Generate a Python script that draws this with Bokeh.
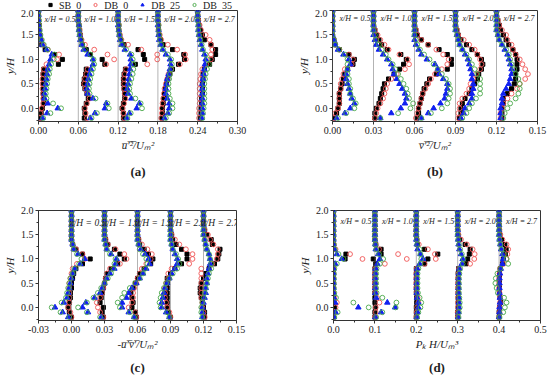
import numpy as np
from bokeh.plotting import figure
from bokeh.models import (Range1d, FixedTicker, Legend, LegendItem,
                          Span, Title, PrintfTickFormatter)
from bokeh.layouts import column, row
from bokeh.embed import file_html
from bokeh.resources import INLINE
from bokeh.core.properties import value

# ---------------- data ----------------
Y_H = [-0.2, -0.1, 0.0, 0.1, 0.2, 0.3, 0.4, 0.5, 0.6, 0.7, 0.8, 0.9,
       1.0, 1.1, 1.2, 1.3, 1.4, 1.5, 1.6, 1.7, 1.8, 1.9, 2.0]
SERIES = ["SB_0", "DB_0", "DB_25", "DB_35"]
STATIONS = ["0.5", "1.0", "1.5", "2.0", "2.7"]
Y_TICKS = [0.0, 0.5, 1.0, 1.5, 2.0]

# (a) u'^2/Um^2, values x 1e-3, one list per station
A_OFFSETS = [0.00, 0.06, 0.12, 0.18, 0.24]
A_TICKS = [0.00, 0.06, 0.12, 0.18, 0.24, 0.30]
A_SB0 = [[3,4,6,8,8,7,7,7,7,7,8,30,36,24,10,5,3,2,1,1,0,0,0],
         [9,10,9,12,15,13,10,8,9,11,12,40,36,18,12,6,4,3,2,1,0,0,0],
         [8,8,6,8,10,10,9,8,8,9,11,26,40,38,30,9,4,2,1,1,0,0,0],
         [6,7,7,8,9,10,11,13,15,18,22,31,40,39,22,8,4,2,1,1,0,0,0],
         [4,5,5,6,6,7,7,7,8,8,10,18,22,27,27,20,10,7,4,2,1,0,0]]
A_DB0 = [[2,3,5,7,7,7,6,6,6,7,8,12,28,31,14,7,4,2,1,1,0,0,0],
         [13,11,10,13,17,14,11,9,10,12,14,42,54,44,24,10,5,3,2,1,0,0,0],
         [9,8,7,9,11,10,9,9,9,10,12,44,59,59,35,15,5,3,1,1,0,0,0],
         [5,6,6,7,8,9,10,12,14,16,20,33,42,41,29,15,5,3,1,1,0,0,0],
         [2,2,2,3,3,3,3,3,4,5,7,13,20,20,22,20,18,12,5,3,1,0,0]]
A_DB25 = [[6,13,29,14,9,9,10,11,12,13,14,16,18,20,12,6,4,2,1,0,0,0,0],
          [18,25,40,42,22,14,13,14,15,17,19,22,22,14,8,5,3,2,1,1,0,0,0],
          [13,17,28,32,20,15,14,15,16,17,18,19,19,18,10,5,3,2,1,0,0,0,0],
          [10,15,17,17,14,12,12,13,14,16,18,19,18,12,7,4,2,1,1,0,0,0,0],
          [6,7,7,7,7,7,7,7,8,9,10,11,12,10,7,5,3,2,1,1,0,0,0]]
A_DB35 = [[7,18,34,22,12,11,12,13,14,16,17,19,23,24,14,8,5,3,2,1,1,0,0],
          [20,28,46,44,26,17,16,17,18,20,22,24,23,18,10,6,4,2,1,1,0,0,0],
          [14,19,36,34,26,18,17,18,20,22,23,23,22,20,12,6,4,2,1,1,0,0,0],
          [12,17,22,22,18,16,16,16,17,18,20,21,20,15,8,5,3,2,1,1,0,0,0],
          [7,8,9,10,10,10,10,10,11,12,14,17,15,12,8,6,4,2,1,1,0,0,0]]

# (b) v'^2/Um^2, values x 1e-3
B_OFFSETS = [0.00, 0.03, 0.06, 0.09, 0.12]
B_TICKS = [0.00, 0.03, 0.06, 0.09, 0.12, 0.15]
B_SB0 = [[1,3,4,5,5,5,6,7,8,9,11,15,16,12,5,2,1,0,0,0,0,0,0],
         [1,1,2,4,5,6,7,8,11,15,19,22,24,20,10,6,4,2,1,0,0,0,0],
         [2,3,3,4,5,6,7,9,11,16,24,27,27,24,18,10,5,2,1,0,0,0,0],
         [3,4,4,5,7,10,12,14,16,17,19,20,19,16,12,8,4,2,1,0,0,0,0],
         [4,4,4,5,5,8,11,13,14,14,15,15,15,14,12,9,7,5,3,2,1,0,0]]
B_DB0 = [[1,2,4,5,5,5,6,6,7,8,9,14,15,12,5,2,1,0,0,0,0,0,0],
         [1,2,3,5,7,8,9,10,13,17,23,26,25,19,11,8,5,3,1,0,0,0,0],
         [1,2,3,4,5,6,8,10,12,15,20,24,25,21,16,10,5,2,1,0,0,0,0],
         [2,2,3,3,5,8,10,11,13,15,18,19,18,16,14,10,6,2,1,0,0,0,0],
         [3,3,4,5,8,11,15,17,21,23,21,19,17,14,12,11,8,7,4,2,1,0,0]]
B_DB25 = [[3,9,13,16,14,13,12,11,10,10,11,13,12,8,4,2,1,0,0,0,0,0,0],
          [5,13,20,23,24,23,21,19,17,15,14,13,10,7,4,2,1,0,0,0,0,0,0],
          [5,10,14,19,22,23,24,24,21,18,17,15,9,5,3,1,0,0,0,0,0,0,0],
          [4,6,7,10,12,12,13,13,12,12,11,10,9,7,5,3,2,1,0,0,0,0,0],
          [3,3,3,4,4,5,7,9,10,11,11,10,9,8,6,4,2,1,0,0,0,0,0]]
B_DB35 = [[4,10,16,17,15,13,13,12,12,11,11,11,11,9,5,2,1,0,0,0,0,0,0],
          [5,18,27,29,26,25,24,22,20,18,16,14,11,9,6,4,2,1,0,0,0,0,0],
          [5,12,20,24,25,26,26,25,23,20,17,14,11,7,4,2,1,0,0,0,0,0,0],
          [5,8,10,12,15,18,18,18,18,16,14,12,10,8,5,3,2,1,0,0,0,0,0],
          [5,6,8,10,14,16,17,17,16,14,13,11,10,9,7,4,2,1,0,0,0,0,0]]

# (c) -u'v'/Um^2, values x 1e-3
C_OFFSETS = [0.00, 0.03, 0.06, 0.09, 0.12]
C_TICKS = [-0.03, 0.00, 0.03, 0.06, 0.09, 0.12, 0.15]
C_SB0 = [[0,-2,-3,-2,-1,-1,0,0,1,2,4,10,17,10,4,1,0,0,0,0,0,0,0],
         [-1,-2,-1,-4,-3,-2,-1,0,1,3,6,12,18,14,9,3,1,0,0,0,0,0,0],
         [-1,-2,-5,-4,-5,-6,-4,-2,0,2,6,12,14,10,6,2,1,0,0,0,0,0,0],
         [0,-2,-3,-3,-3,-3,-3,-3,-3,0,4,10,15,15,10,5,2,1,0,0,0,0,0],
         [1,1,0,-1,-2,-3,-3,-2,0,2,5,10,13,14,15,8,7,3,1,0,0,0,0]]
C_DB0 = [[0,-1,-3,-2,-2,-2,-2,-2,-1,0,1,5,12,10,4,1,0,0,0,0,0,0,0],
         [-1,-4,-6,-7,-4,-2,-1,0,1,2,5,14,20,18,10,3,1,0,0,0,0,0,0],
         [-1,-2,-8,-5,-4,-4,-3,-1,0,2,4,8,12,13,9,4,1,0,0,0,0,0,0],
         [0,-1,-3,-4,-5,-5,-5,-4,-2,-2,1,17,20,20,14,8,4,1,0,0,0,0,0],
         [1,0,-1,-1,-2,-2,-2,-2,-2,-2,-2,8,12,13,13,9,6,4,1,0,0,0,0]]
C_DB25 = [[-3,-8,-15,-7,-4,-3,-2,-1,0,1,3,8,12,6,2,1,0,0,0,0,0,0,0],
          [-3,-15,-20,-17,-9,-4,-2,0,2,5,9,10,11,6,2,1,0,0,0,0,0,0,0],
          [-3,-8,-14,-14,-10,-8,-5,-1,2,5,8,11,10,7,3,1,0,0,0,0,0,0,0],
          [-1,-4,-8,-8,-7,-6,-5,-3,-1,1,4,6,6,4,2,1,0,0,0,0,0,0,0],
          [-1,-1,-1,0,1,2,2,3,3,4,5,6,6,5,3,2,1,0,0,0,0,0,0]]
C_DB35 = [[-2,-10,-18,-9,-5,-4,-3,-2,-1,1,3,7,9,5,2,1,0,0,0,0,0,0,0],
          [-4,-16,-24,-16,-10,-6,-3,0,3,6,8,9,10,5,2,1,0,0,0,0,0,0,0],
          [-3,-7,-16,-18,-14,-12,-7,-2,2,5,7,9,8,5,2,1,0,0,0,0,0,0,0],
          [-1,-3,-9,-10,-9,-8,-6,-4,-1,2,6,8,7,5,2,1,0,0,0,0,0,0,0],
          [-1,-2,-2,-1,0,1,2,3,4,5,7,7,6,5,3,2,1,0,0,0,0,0,0]]

# (d) Pk H/Um^3, values x 1e-3
D_OFFSETS = [0.0, 0.1, 0.2, 0.3, 0.4]
D_TICKS = [0.0, 0.1, 0.2, 0.3, 0.4, 0.5]
D_SB0 = [[0,1,2,1,0,0,0,0,0,0,0,2,28,30,1,0,0,0,0,0,0,0,0],
         [0,0,1,0,0,0,0,0,0,0,0,2,-4,15,15,2,0,0,0,0,0,0,0],
         [0,0,0,1,1,0,0,0,0,0,0,20,28,52,20,3,1,0,0,0,0,0,0],
         [0,0,1,1,1,1,1,1,1,1,2,20,24,28,30,18,5,1,0,0,0,0,0],
         [0,0,1,4,2,1,1,1,1,1,3,8,10,15,17,14,6,2,1,0,0,0,0]]
D_DB0 = [[0,3,5,8,2,0,0,0,0,0,0,2,70,40,5,1,0,0,0,0,0,0,0],
         [0,2,2,11,5,1,0,0,0,0,1,24,77,56,10,2,0,0,0,0,0,0,0],
         [0,1,2,5,3,1,0,0,0,0,1,20,47,45,28,6,1,0,0,0,0,0,0],
         [0,0,1,1,1,1,1,1,1,2,3,30,40,41,36,22,8,2,0,0,0,0,0],
         [0,1,1,2,2,1,0,0,0,1,2,10,18,20,22,18,8,3,1,0,0,0,0]]
D_DB25 = [[1,5,60,4,1,0,0,0,0,0,0,4,20,8,2,0,0,0,0,0,0,0,0],
          [1,15,49,30,3,1,1,1,1,1,2,6,12,8,2,1,0,0,0,0,0,0,0],
          [1,3,5,5,2,1,1,1,1,1,2,8,16,10,3,1,0,0,0,0,0,0,0],
          [1,2,3,3,3,2,2,2,2,3,4,10,12,8,4,2,1,0,0,0,0,0,0],
          [0,1,1,2,2,1,1,1,1,2,4,8,10,8,5,3,1,0,0,0,0,0,0]]
D_DB35 = [[2,10,85,48,6,2,1,1,1,1,2,8,24,12,3,1,0,0,0,0,0,0,0],
          [3,18,50,52,18,4,3,3,3,3,4,12,20,10,3,1,0,0,0,0,0,0,0],
          [2,5,10,12,8,4,3,3,3,3,5,10,12,10,8,2,1,0,0,0,0,0,0],
          [2,3,5,5,4,3,3,3,3,4,6,12,14,10,6,3,1,0,0,0,0,0,0],
          [1,10,14,18,12,-3,-6,-9,-8,-4,3,22,18,12,6,3,1,0,0,0,0,0,0]]

# ---------------- styling ----------------
FONT = "Liberation Serif"
TXT = "#222222"
STYLES = {
    "SB_0": dict(marker="square", size=4, fill_color="black", line_color="black"),
    "DB_0": dict(marker="circle", size=4.8, fill_color=None, line_color="#f05656", line_width=0.9),
    "DB_25": dict(marker="triangle", size=5.5, fill_color="#1020f0", line_color="#1020f0"),
    "DB_35": dict(marker="circle", size=4.8, fill_color=None, line_color="#4aa84a", line_width=0.9),
}


def make_panel(xr, xticks, xfmt, offsets, series_data, xlabel, tag, width, height,
               bl, br, bt, bb, lab_size, lab_dx, lab_y, title_gap):
    p = figure(width=width, height=height, output_backend="svg", toolbar_location=None,
               x_range=Range1d(*xr), y_range=Range1d(-0.27, 2.0),
               min_border_left=bl, min_border_right=br, min_border_top=bt,
               min_border_bottom=bb)
    p.grid.visible = False
    p.outline_line_color = "#333333"

    for off in offsets:
        p.add_layout(Span(location=off, dimension="height", line_color="#666666",
                          line_dash="1 1", line_width=1))

    for name, data in zip(SERIES, series_data):
        xs, ys = [], []
        for off, vals in zip(offsets, data):
            xs.extend([off + v / 1000.0 for v in vals])
            ys.extend(Y_H)
        p.scatter(xs, ys, **STYLES[name])

    p.text(x=offsets, y=[lab_y] * len(offsets),
           text=["x/H = " + s for s in STATIONS],
           text_font=value(FONT), text_font_style="italic", text_font_size=lab_size,
           text_baseline="middle", text_align="left", x_offset=lab_dx, text_color=TXT)

    xa = p.xaxis[0]
    step = xticks[1] - xticks[0]
    xa.ticker = FixedTicker(ticks=xticks,
                            minor_ticks=list(np.arange(xr[0], xr[1] + 1e-9, step / 2)))
    xa.formatter = PrintfTickFormatter(format=xfmt)
    xa.axis_label = xlabel
    ya = p.yaxis[0]
    ya.ticker = FixedTicker(ticks=Y_TICKS, minor_ticks=list(np.arange(-0.25, 2.01, 0.25)))
    ya.formatter = PrintfTickFormatter(format="%.1f")
    ya.axis_label = "y/H"
    for ax in (xa, ya):
        ax.major_label_text_font = FONT
        ax.major_label_text_font_size = "10px"
        ax.major_label_text_color = TXT
        ax.axis_label_text_font = FONT
        ax.axis_label_text_font_style = "italic"
        ax.axis_label_text_font_size = "11px"
        ax.axis_label_text_color = TXT
        ax.major_tick_in = 0
        ax.major_tick_out = 3
        ax.minor_tick_in = 0
        ax.minor_tick_out = 2
        ax.axis_line_color = "#333333"
        ax.major_tick_line_color = "#333333"
        ax.minor_tick_line_color = "#333333"
        ax.major_label_standoff = 2
        ax.axis_label_standoff = 2

    t = Title(text=tag, align="center", text_font=FONT, text_font_size="13px",
              text_font_style="bold", text_color=TXT, standoff=title_gap)
    p.add_layout(t, "below")
    return p


# legend strip above panel (a); its renderers hold one point outside the view
lf = figure(width=275, height=9, output_backend="svg", toolbar_location=None,
            x_axis_type=None, y_axis_type=None, x_range=Range1d(0, 1), y_range=Range1d(0, 1),
            min_border_left=41, min_border_right=38, min_border_top=0, min_border_bottom=0)
lf.outline_line_color = None
lf.grid.visible = False
items = []
for name in SERIES:
    r = lf.scatter(x=[-5], y=[-5], **STYLES[name])
    items.append(LegendItem(label=name, renderers=[r]))
lg = Legend(items=items, orientation="horizontal", location="center",
            label_text_font=FONT, label_text_font_size="10px", label_text_color=TXT,
            glyph_width=8, glyph_height=8, label_height=8, label_standoff=5,
            spacing=10, padding=0, margin=0, border_line_color=None,
            background_fill_alpha=0)
lf.add_layout(lg, "center")

pa = make_panel((0.0, 0.30), A_TICKS, "%.2f", A_OFFSETS, [A_SB0, A_DB0, A_DB25, A_DB35],
                "u\u0305\u2032\u0305\u00b2\u0305/U\u2098\u00b2", "(a)", 275, 177,
                31, 38, 1, 40, "8px", 6, 1.82, 16)
pb = make_panel((0.0, 0.15), B_TICKS, "%.2f", B_OFFSETS, [B_SB0, B_DB0, B_DB25, B_DB35],
                "v\u0305\u2032\u0305\u00b2\u0305/U\u2098\u00b2", "(b)", 275, 177,
                57, 13, 1, 40, "8px", 7, 1.84, 16)
pc = make_panel((-0.03, 0.15), C_TICKS, "%.2f", C_OFFSETS, [C_SB0, C_DB0, C_DB25, C_DB35],
                "-u\u0305\u2032\u0305v\u0305\u2032\u0305/U\u2098\u00b2", "(c)", 275, 194,
                31, 39, 24, 40, "9.5px", -2, 1.75, 11)
pd = make_panel((0.0, 0.5), D_TICKS, "%.1f", D_OFFSETS, [D_SB0, D_DB0, D_DB25, D_DB35],
                "P\u2096 H/U\u2098\u00b3", "(d)", 275, 194,
                58, 10, 24, 40, "8px", 7, 1.77, 11)

layout = column(lf, row(pa, pb), row(pc, pd))
open("out.html", "w").write(file_html(layout, INLINE))
